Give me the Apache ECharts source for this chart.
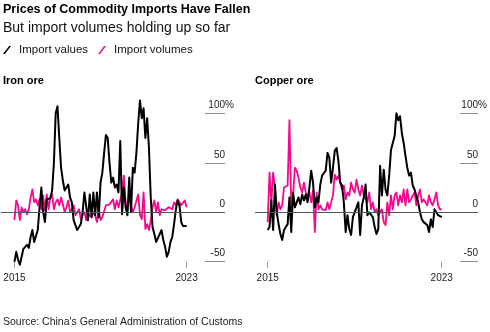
<!DOCTYPE html>
<html>
<head>
<meta charset="utf-8">
<script src="https://cdn.jsdelivr.net/npm/echarts@6/dist/echarts.min.js"></script>
<style>
  html, body { margin: 0; padding: 0; background: #fff; }
  #chart { width: 490px; height: 332px; }
</style>
</head>
<body>
<div id="chart"></div>
<script>
// Monthly year-on-year change (%) of China's commodity imports, Jan 2015 – Jan 2023
const seriesNames = ['Import values', 'Import volumes'];
const yearTickMonths = [0, 96];
const yearTickLabels = ['2015', '2023'];

const ironValues = [
  -50, -40, -48, -53, -45, -37, -35, -33, -36, -25,
  -18, -30, -32, -18, 5, 25, 0, -10, 13, 15,
  14, 22, 50, 100, 107, 75, 45, 32, 22, 20,
  28, 15, 10, -8, -10, -18, -15, -12, 0, 20,
  22, -8, 18, -5, 20, -3, 20, -5, 30, 40,
  60, 78, 75, 50, 30, 35, 25, 28, 20, 72,
  -2, 25, 5, -3, 35, 0, 45, 40, 60, 90,
  113, 95, 105, 75, 95, 65, 15, -15, -22, -30,
  -28, -22, -18, -28, -35, -45, -40, -30, -25, -12,
  3, 12, 7, -10, -14, -14, -14
];
const ironVolumes = [
  -8, 12, 7, -8, 5, 0, 3, -2, 3, 15,
  23, 10, 13, 7, 13, 3, 17, 2, 18, 3,
  15, 18, 3, 10, 13, 7, 15, 8, 0, 5,
  12, 0, 3, 7, -3, 0, 3, -7, -3, 0,
  -8, -2, 0, -5, 0, -3, -10, 3, -8, -5,
  -3, 7, 5, 8, 10, 13, 3, 12, 5, 3,
  20, 37, 10, 3, 15, 17, 0, 5, 3, 18,
  -3, -7, 20, -17, -12, -18, -8, 5, 12, 0,
  10, -3, 3, 3, 2, 0, 5, 5, 3, 10,
  7, 13, 12, 7, 8, 12, 5
];
const copperValues = [
  -18, -15, 12, -18, 28, 0, -12, -22, -28, -18,
  -15, -12, 15, -20, 20, 5, 10, 15, 8, 18,
  12, 18, 10, 25, 42, 30, 5, 15, 10, 28,
  37, 36, 42, 60, 55, 30, 45, 62, 65, 52,
  30, 27, 10, -20, -3, -17, -23, -5, -3, 5,
  10, -23, 7, 15, 28, -3, 0, 0, -5, -15,
  -22, -17, 47, 17, 43, 23, 17, 37, 63, 63,
  77, 100, 93, 97, 80, 70, 57, 45, 37, 40,
  27, 23, 22, 10, 0, -7, -10, -12, -13, -20,
  -7, -15, 3, 5, -3, -5, -5
];
const copperVolumes = [
  -10, 40, 10, 40, 25, -3, 10, 3, 7, 25,
  27, 27, 93, 3, 17, 45, 42, 35, 25, 20,
  30, 20, 17, 20, 10, 22, -20, 20, 3, 7,
  3, 5, 2, 10, 3, 5, 17, 38, 33, 37,
  30, 23, 27, 13, 20, 17, 30, 23, 20, 33,
  23, 17, 27, 17, 13, 10, 20, 3, 10, 0,
  3, -3, -3, 3, -10, -13, 10, -3, 17, 3,
  17, 20, 7, 17, 10, 23, 7, 23, 10, 13,
  17, 20, 7, 17, 23, 10, 13, 10, 7, 17,
  10, 7, 13, 20, 7, 3, 3
];

const FONT = '"Liberation Sans", Arial, sans-serif';
const BLACK = '#000000';
const PINK = '#f5078e';
const TEXT = '#222222';
const SUFFIX_W = 9; // room for the "%" that hangs past the tick end on the top label

const toPoints = arr => arr.map((v, i) => [i, v]);

function xAxisFor(gridIndex, min, max) {
  return {
    type: 'value', gridIndex, min, max, position: 'bottom',
    axisLine: { show: false, onZero: false },
    splitLine: { show: false },
    axisTick: { show: true, customValues: yearTickMonths, length: 6, lineStyle: { color: '#9a9a9a', width: 1 } },
    axisLabel: {
      customValues: yearTickMonths, margin: 12, fontSize: 10, fontFamily: FONT, color: TEXT,
      formatter: v => yearTickLabels[yearTickMonths.indexOf(v)] || ''
    }
  };
}

function yAxisFor(gridIndex, tickLen) {
  return {
    type: 'value', gridIndex, position: 'right',
    min: -50, max: 100, interval: 50,
    axisLine: { show: false, onZero: false },
    splitLine: { show: false },
    axisTick: { show: true, inside: true, length: tickLen, lineStyle: { color: '#8c8c8c', width: 1 } },
    axisLabel: {
      inside: false, margin: SUFFIX_W, align: 'right', verticalAlign: 'bottom', padding: [0, 0, 3, 0],
      fontSize: 10, fontFamily: FONT, color: TEXT,
      formatter: v => v + (v === 100 ? '{sfx|%}' : '{sfx|\u00a0}'),
      rich: {
        sfx: { width: SUFFIX_W, align: 'right', fontSize: 10, fontFamily: FONT, color: TEXT }
      }
    }
  };
}

const zeroLine = {
  silent: true, symbol: 'none', label: { show: false },
  lineStyle: { color: '#555555', width: 1, type: 'solid' },
  emphasis: { disabled: true },
  data: [{ yAxis: 0 }]
};

function lineSeries(name, data, axisIndex, color, width, withZero) {
  const s = {
    name, type: 'line', xAxisIndex: axisIndex, yAxisIndex: axisIndex,
    data: toPoints(data), showSymbol: false, symbol: 'none', clip: false,
    lineStyle: { color, width, join: 'round' }, itemStyle: { color },
    emphasis: { disabled: true }
  };
  if (withZero) s.markLine = zeroLine;
  return s;
}

const chart = echarts.init(document.getElementById('chart'), null, { renderer: 'canvas' });
chart.setOption({
  animation: false,
  backgroundColor: '#ffffff',
  textStyle: { fontFamily: FONT },
  title: [
    { text: 'Prices of Commodity Imports Have Fallen', left: 1, top: 1, padding: 2,
      textStyle: { fontSize: 12.5, fontWeight: 'bold', color: '#000', fontFamily: FONT } },
    { text: 'But import volumes holding up so far', left: 1, top: 19, padding: 2,
      textStyle: { fontSize: 14, fontWeight: 'normal', color: '#111', fontFamily: FONT } },
    { text: 'Iron ore', left: 1, top: 73, padding: 2,
      textStyle: { fontSize: 11, fontWeight: 'bold', color: '#000', fontFamily: FONT } },
    { text: 'Copper ore', left: 253, top: 73, padding: 2,
      textStyle: { fontSize: 11, fontWeight: 'bold', color: '#000', fontFamily: FONT } },
    { text: "Source: China's General Administration of Customs", left: 1, top: 315, padding: 2,
      textStyle: { fontSize: 10.5, fontWeight: 'normal', color: '#222', fontFamily: FONT } }
  ],
  legend: {
    data: seriesNames, left: 1, top: 42, padding: 2,
    itemWidth: 8, itemHeight: 10, itemGap: 10,
    icon: 'path://M0,10L2.4,10L10,0L7.6,0Z',
    textStyle: { fontSize: 11.5, color: '#111', fontFamily: FONT, padding: [0, 0, 0, 3] },
    selectedMode: false
  },
  grid: [
    { left: 1, top: 113.3, width: 224, height: 148.4, containLabel: false },
    { left: 255, top: 113.3, width: 223, height: 148.4, containLabel: false }
  ],
  xAxis: [xAxisFor(0, -7.5, 117.4), xAxisFor(1, -7, 116)],
  yAxis: [yAxisFor(0, 20), yAxisFor(1, 18)],
  series: [
    lineSeries(seriesNames[1], ironVolumes, 0, PINK, 1.8, true),
    lineSeries(seriesNames[0], ironValues, 0, BLACK, 2, false),
    lineSeries(seriesNames[1], copperVolumes, 1, PINK, 1.8, true),
    lineSeries(seriesNames[0], copperValues, 1, BLACK, 2, false)
  ]
});
</script>
</body>
</html>
